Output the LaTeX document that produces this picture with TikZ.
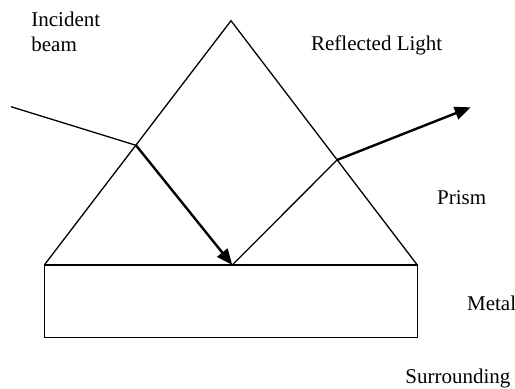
\documentclass[tikz,border=0pt]{standalone}
\usepackage{fontspec}
\setmainfont{Liberation Serif}
\usetikzlibrary{arrows.meta}
\begin{document}
\begin{tikzpicture}[x=0.5pt,y=-0.5pt,
  thinline/.style={line width=0.65pt},
  beamline/.style={line width=1.2pt,-{Triangle[length=8pt,width=6.5pt]}},
  lbl/.style={anchor=base west,inner sep=0pt,font=\fontsize{10.5}{12.5}\selectfont}]
\useasboundingbox (0,0) rectangle (515,388);
% prism and metal
\coordinate (apex) at (231,20.7);
\coordinate (bl) at (44.3,265);
\coordinate (br) at (417.3,265);
\coordinate (ml) at (44.3,337.3);
\coordinate (mr) at (417.3,337.3);
\draw[thinline] (bl) -- (apex) -- (br);
\draw[line width=0.75pt] (bl) rectangle (mr);
% beam points
\coordinate (src) at (11,106.7);
\coordinate (entry) at (136,145.3);
\coordinate (hit) at (232.3,265);
\coordinate (exit) at (337,160);
\coordinate (out) at (470.7,107.3);
\draw[thinline] (src) -- (entry);
\draw[beamline] (entry) -- (hit);
\draw[thinline] (hit) -- (exit);
\draw[beamline] (exit) -- (out);
% labels
\node[lbl] (inc) at (31,26.7) {Incident};
\node[lbl] (beam) at (31,51.7) {beam};
\node[lbl] (refl) at (310.7,50.7) {Reflected Light};
\node[lbl] (prism) at (436.7,204) {Prism};
\node[lbl] (metal) at (466.7,310) {Metal};
\node[lbl] (surr) at (405,383.3) {Surrounding};
\end{tikzpicture}
\end{document}
